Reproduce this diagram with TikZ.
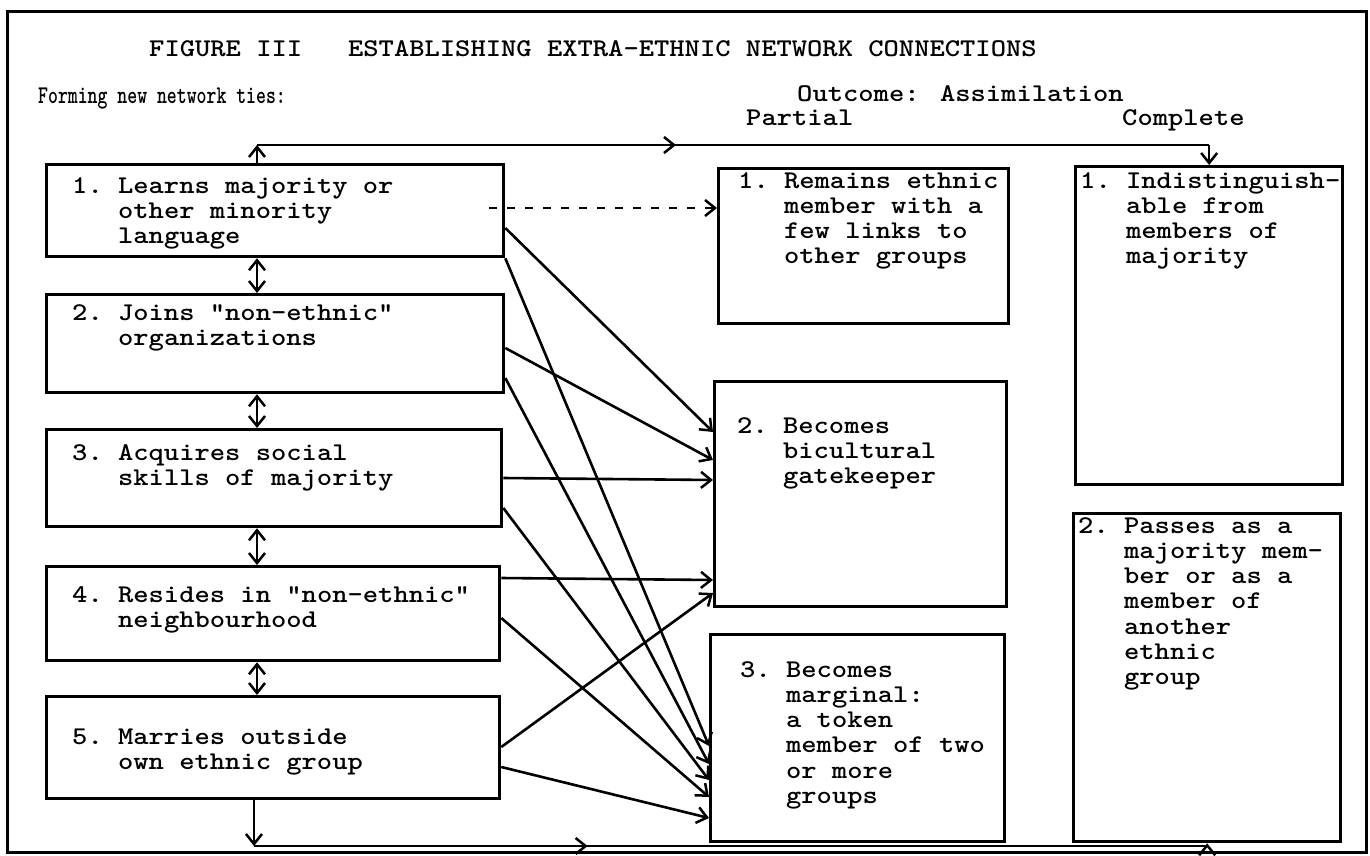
\documentclass[tikz,border=0pt]{standalone}
\usepackage{fontspec}
\newfontfamily\twfont{lmmonolt10-bold.otf}[FakeStretch=1.143,Ligatures=TeXOff]
\newfontfamily\narrowtw{lmmonolt10-bold.otf}[FakeStretch=0.74,Ligatures=TeXOff]
\usetikzlibrary{arrows.meta,calc,decorations.markings}
\newcommand{\tw}{\twfont\fontsize{25.5}{25.3}\selectfont}
\newcommand{\bxt}[2]{\begin{tabular}[t]{@{}p{45.9pt}@{}l@{}}#1 & #2\end{tabular}}
\begin{document}
\begin{tikzpicture}[x=1pt,y=-1pt,
  box/.style={draw, line width=3.3pt, inner sep=0pt, anchor=north west},
  txt/.style={anchor=base west, inner sep=0pt, font=\tw},
  conn/.style={line width=2.6pt},
  tip/.style={-{Straight Barb[length=10pt,width=16pt,line width=2.5pt]}},
  dtip/.style={{Straight Barb[length=10pt,width=16pt,line width=2.5pt]}-{Straight Barb[length=10pt,width=16pt,line width=2.5pt]}},
  midarrow/.style={postaction={decorate}, decoration={markings,
     mark=at position #1 with {\arrow{Straight Barb[length=10pt,width=16pt,line width=2.5pt]}}}},
  dashconn/.style={line width=2.8pt, dash pattern=on 8pt off 10pt}
]
\useasboundingbox (0,0) rectangle (1370,856);
\fill[white] (0,0) rectangle (1370,856);
\draw[line width=3pt] (7,12) rectangle (1366,852);

% titles
\node[txt] (title) at (149,57) {FIGURE III~~~ESTABLISHING EXTRA-ETHNIC NETWORK CONNECTIONS};
\node[txt, font={\narrowtw\fontsize{25.5}{25.3}\selectfont}] (forming) at (38,104) {Forming new network ties:};
\node[txt] (outcome) at (797,102) {Outcome: Assimilation};
\node[txt] (partial) at (746,125) {Partial};
\node[txt] (complete) at (1122,125) {Complete};

% left boxes
\node[box, minimum width=457pt, minimum height=92pt] (L1) at (45,163) {};
\node[box, minimum width=457pt, minimum height=98pt] (L2) at (45,293) {};
\node[box, minimum width=455pt, minimum height=97pt] (L3) at (45,428) {};
\node[box, minimum width=453pt, minimum height=94pt] (L4) at (45,565) {};
\node[box, minimum width=453pt, minimum height=102pt] (L5) at (45,695) {};

\node[txt] (L1t) at (72,193) {\bxt{1.}{Learns majority or\\ & other minority\\ & language}};
\node[txt] (L2t) at (72,320) {\bxt{2.}{Joins "non-ethnic"\\ & organizations}};
\node[txt] (L3t) at (72,460) {\bxt{3.}{Acquires social\\ & skills of majority}};
\node[txt] (L4t) at (72,602) {\bxt{4.}{Resides in "non-ethnic"\\ & neighbourhood}};
\node[txt] (L5t) at (72,744) {\bxt{5.}{Marries outside\\ & own ethnic group}};

% partial boxes
\node[box, minimum width=290pt, minimum height=155pt] (P1) at (717,167) {};
\node[box, minimum width=292pt, minimum height=225pt] (P2) at (713,380) {};
\node[box, minimum width=294pt, minimum height=207pt] (P3) at (709,633) {};
\node[txt] (P1t) at (738,188) {\bxt{1.}{Remains ethnic\\ & member with a\\ & few links to\\ & other groups}};
\node[txt] (P2t) at (737,433) {\bxt{2.}{Becomes\\ & bicultural\\ & gatekeeper}};
\node[txt] (P3t) at (740,677) {\bxt{3.}{Becomes\\ & marginal:\\ & a token\\ & member of two\\ & or more\\ & groups}};

% complete boxes
\node[box, minimum width=267pt, minimum height=318pt] (C1) at (1074,165) {};
\node[box, minimum width=267pt, minimum height=328pt] (C2) at (1072,512) {};
\node[txt] (C1t) at (1080,188) {\bxt{1.}{Indistinguish-\\ & able from\\ & members of\\ & majority}};
\node[txt] (C2t) at (1078,533) {\bxt{2.}{Passes as a\\ & majority mem-\\ & ber or as a\\ & member of\\ & another\\ & ethnic\\ & group}};

% vertical double arrows between left boxes
\coordinate (vx) at (257,0);
\draw[conn, dtip] (L1.south -| vx) -- (L2.north -| vx);
\draw[conn, dtip] (L2.south -| vx) -- (L3.north -| vx);
\draw[conn, dtip] (L3.south -| vx) -- (L4.north -| vx);
\draw[conn, dtip] (L4.south -| vx) -- (L5.north -| vx);

% top connector
\coordinate (ta) at (257,145);
\coordinate (tb) at (C1.north |- ta);
\draw[conn, tip] (L1.north -| ta) -- (ta);
\draw[conn, midarrow=0.44] (ta) -- (tb);
\draw[conn, tip] (tb) -- (C1.north);

% bottom connector
\coordinate (ba) at (254,846);
\coordinate (bb) at (C2.south |- ba);
\draw[conn, tip] (L5.south -| ba) -- (ba);
\draw[conn, midarrow=0.35] (ba) -- (bb);
\draw[conn, tip] (bb) -- (C2.south);

% dashed
\coordinate (ds) at (489,208);
\draw[dashconn, tip] (ds) -- (P1.west |- ds);

% to P2
\draw[conn, tip] (L1.east |- 0,228) -- (P2.west |- 0,432);
\draw[conn, tip] (L2.east |- 0,348) -- (P2.west |- 0,460);
\draw[conn, tip] (L3.east |- 0,478) -- (P2.west |- 0,480);
\draw[conn, tip] (L4.east |- 0,578) -- (P2.west |- 0,580);
\draw[conn, tip] (L5.east |- 0,747) -- (P2.west |- 0,593);

% to P3
\draw[conn, tip] (L1.south east) -- (P3.west |- 0,746);
\draw[conn, tip] (L2.east |- 0,378) -- (P3.west |- 0,764);
\draw[conn, tip] (L3.east |- 0,508) -- (P3.west |- 0,780);
\draw[conn, tip] (L4.east |- 0,618) -- (P3.west |- 0,797);
\draw[conn, tip] (L5.east |- 0,767) -- (P3.west |- 0,818);
\end{tikzpicture}
\end{document}
